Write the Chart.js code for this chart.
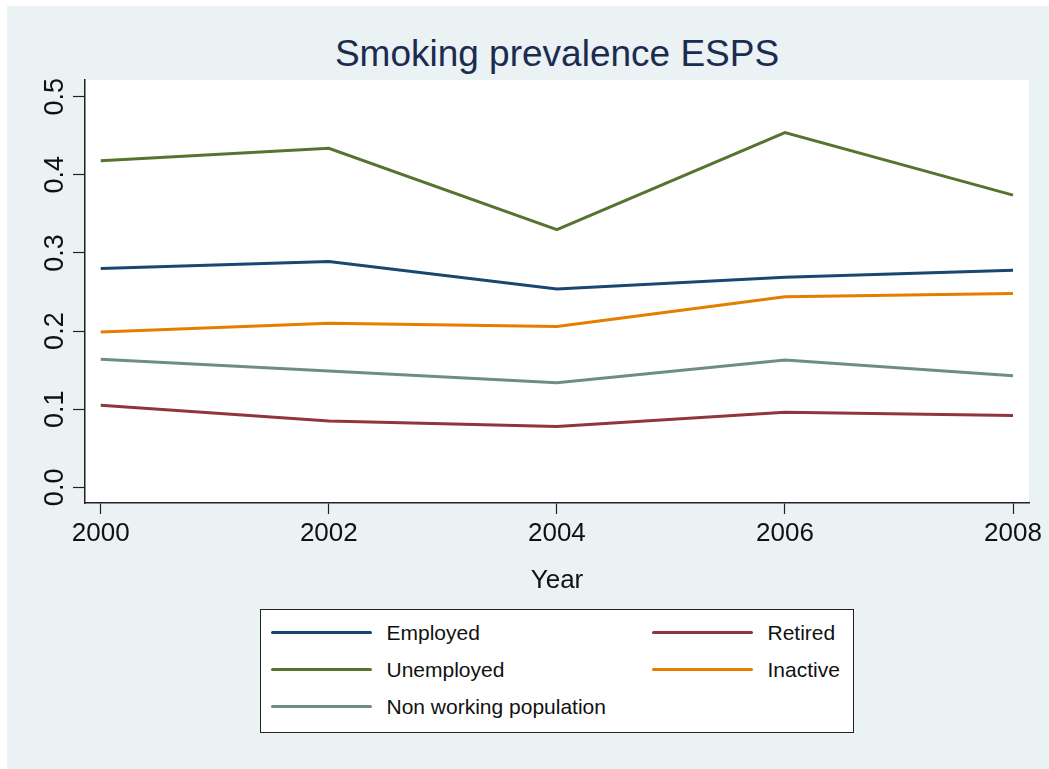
<!DOCTYPE html>
<html>
<head>
<meta charset="utf-8">
<script src="https://cdn.jsdelivr.net/npm/chart.js@4/dist/chart.umd.min.js"></script>
<style>
  html, body { margin: 0; padding: 0; background: #fff; }
  body { width: 1049px; height: 769px; position: relative; overflow: hidden; font-family: "Liberation Sans", Arial, sans-serif; }
  #bg { position: absolute; left: 7px; top: 6px; right: 0; bottom: 0; background: #EAF2F3; }
  #title { position: absolute; left: 0; width: 1114px; top: 33px; text-align: center; font-size: 37px; color: #1c2b50; line-height: 42px; }
  #chartWrap { position: absolute; left: 0; top: 0; width: 1049px; height: 600px; }
  #legend { position: absolute; left: 260px; top: 609px; width: 594px; height: 124px; background: #fff; border: 1.5px solid #222; box-sizing: border-box; }
  .item { position: absolute; height: 26px; font-size: 21px; color: #111; line-height: 26px; }
  .item .swatch { position: absolute; left: 0; top: 11.5px; width: 101px; height: 3px; border-radius: 1.5px; }
  .item .txt { position: absolute; left: 116px; top: 0; white-space: nowrap; }
</style>
</head>
<body>
<div id="bg"></div>
<div id="title">Smoking prevalence ESPS</div>
<div id="chartWrap"><canvas id="chart"></canvas></div>
<div id="legend"></div>
<script>
const years = [2000, 2002, 2004, 2006, 2008];
const seriesNames = ['Employed', 'Retired', 'Unemployed', 'Inactive', 'Non working population'];
const seriesColors = ['#1A476F', '#90353B', '#55752F', '#E37E00', '#6E8E84'];
const employed = [0.280, 0.289, 0.254, 0.269, 0.278];
const retired = [0.105, 0.085, 0.078, 0.096, 0.092];
const unemployed = [0.418, 0.434, 0.330, 0.454, 0.374];
const inactive = [0.199, 0.210, 0.206, 0.244, 0.248];
const nonWorking = [0.164, 0.149, 0.134, 0.163, 0.143];
const yTicks = [0, 0.1, 0.2, 0.3, 0.4, 0.5];
const xTicks = [2000, 2002, 2004, 2006, 2008];

const seriesValues = [employed, retired, unemployed, inactive, nonWorking];

// legend, row-major in two columns like the Stata key
const legendEl = document.getElementById('legend');
seriesNames.forEach((name, i) => {
  const div = document.createElement('div');
  div.className = 'item';
  const col = i % 2, row = Math.floor(i / 2);
  div.style.left = (col === 0 ? 9.5 : 390.5) + 'px';
  div.style.top = (9.5 + row * 37) + 'px';
  div.innerHTML = `<span class="swatch" style="background:${seriesColors[i]}"></span><span class="txt">${name}</span>`;
  legendEl.appendChild(div);
});

const plotBg = {
  id: 'plotBg',
  beforeDraw(chart) {
    const { ctx, chartArea: a } = chart;
    ctx.save();
    ctx.fillStyle = '#fff';
    ctx.fillRect(a.left, a.top, a.right - a.left, a.bottom - a.top);
    ctx.restore();
  }
};

// vertical y tick labels, as Stata draws them
const yLabels = {
  id: 'yLabels',
  afterDraw(chart) {
    const { ctx } = chart;
    const y = chart.scales.y;
    ctx.save();
    ctx.fillStyle = '#111';
    ctx.font = '27px "Liberation Sans", Arial, sans-serif';
    ctx.textAlign = 'center';
    ctx.textBaseline = 'middle';
    y.ticks.forEach(t => {
      const py = y.getPixelForValue(t.value);
      ctx.save();
      ctx.translate(55, py);
      ctx.rotate(-Math.PI / 2);
      ctx.fillText(t.value.toFixed(1), 0, 1);
      ctx.restore();
    });
    ctx.restore();
  }
};

new Chart(document.getElementById('chart'), {
  type: 'line',
  data: {
    datasets: seriesNames.map((name, i) => ({
      label: name,
      data: years.map((yr, j) => ({ x: yr, y: seriesValues[i][j] })),
      borderColor: seriesColors[i],
      backgroundColor: seriesColors[i],
      borderWidth: 3,
      pointRadius: 0,
      tension: 0,
      fill: false
    }))
  },
  options: {
    responsive: true,
    maintainAspectRatio: false,
    animation: false,
    layout: { padding: { left: 0, right: 20, top: 80, bottom: 0 } },
    plugins: {
      legend: { display: false },
      title: { display: false },
      tooltip: { enabled: false }
    },
    scales: {
      x: {
        type: 'linear',
        min: 1999.862,
        max: 2008.14,
        afterBuildTicks: (s) => { s.ticks = xTicks.map(v => ({ value: v })); },
        afterFit: (s) => { s.height = 97; },
        grid: { display: true, drawOnChartArea: false, drawTicks: true, tickLength: 11, color: '#222', tickWidth: 1.2 },
        border: { display: true, color: '#222', width: 1.5 },
        ticks: {
          color: '#111',
          font: { size: 26, family: '"Liberation Sans", Arial, sans-serif' },
          padding: 4,
          maxRotation: 0,
          callback: (v) => String(v)
        },
        title: {
          display: true,
          text: 'Year',
          color: '#111',
          font: { size: 26, family: '"Liberation Sans", Arial, sans-serif' },
          padding: { top: 0, bottom: 4 }
        }
      },
      y: {
        min: -0.02,
        max: 0.5214,
        afterBuildTicks: (s) => { s.ticks = yTicks.map(v => ({ value: v })); },
        afterFit: (s) => { s.width = 85; },
        grid: { display: true, drawOnChartArea: false, drawTicks: true, tickLength: 12, color: '#222', tickWidth: 1.2 },
        border: { display: true, color: '#222', width: 1.5 },
        ticks: { display: false }
      }
    }
  },
  plugins: [plotBg, yLabels]
});
</script>
</body>
</html>
